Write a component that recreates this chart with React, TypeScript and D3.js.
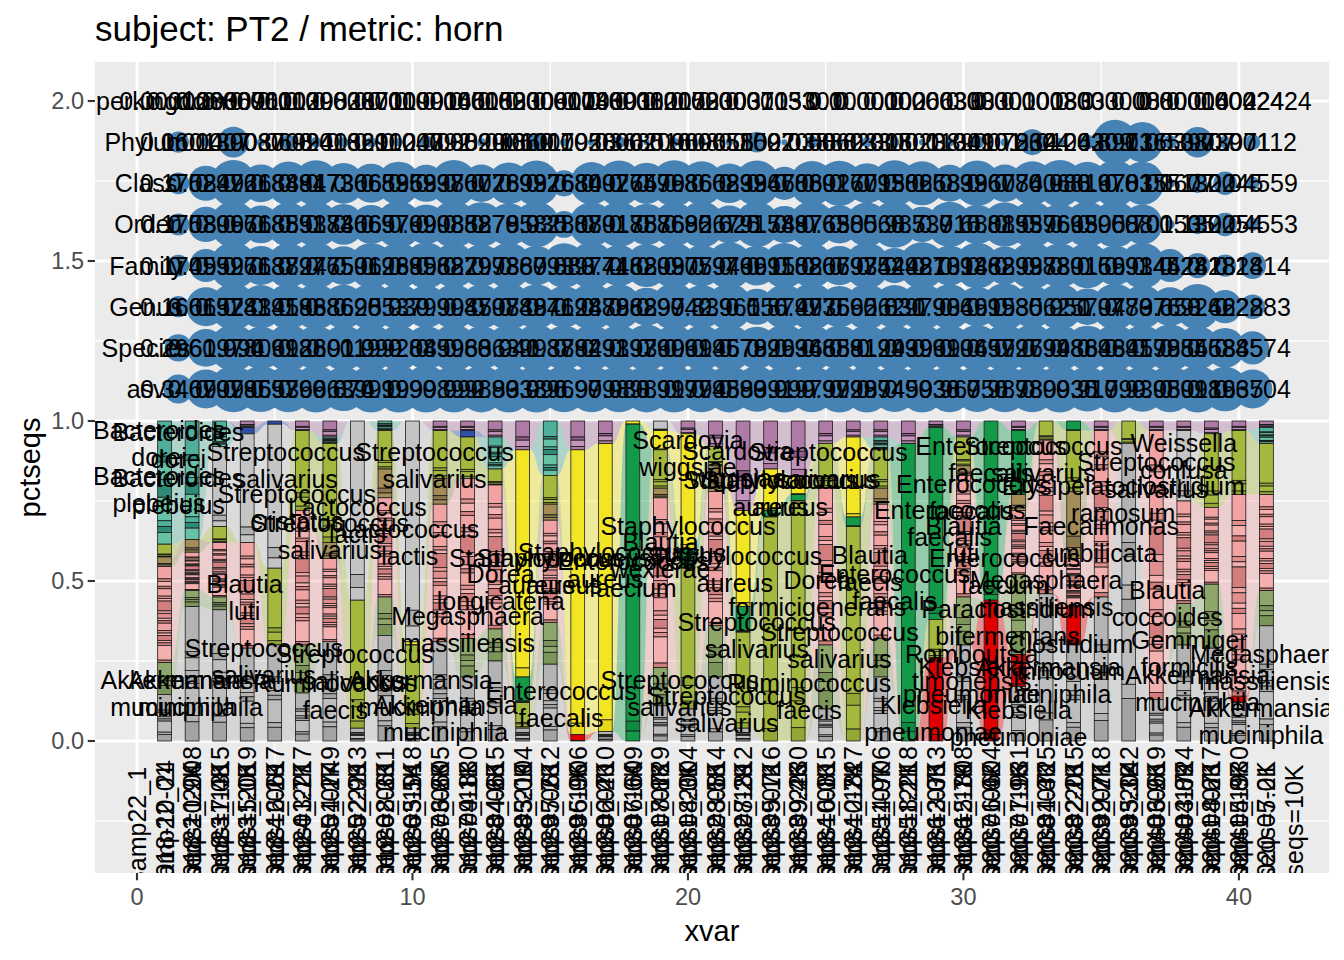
import * as d3 from "d3";

const W = 1344;
const H = 960;
const FONT = "'Liberation Sans', Arial, Helvetica, sans-serif";
const margin = { top: 62, right: 15, bottom: 87, left: 95 };

// ---- samples (x = 1..41) ----
const samples = [
  "Samp22_1", "Samp22_24", "Samp22_2008", "Samp23_1315", "Samp23_2019", "Samp24_0617", "Samp24_2217",
  "Samp25_0749", "Samp25_2213", "Samp26_0611", "Samp26_1918", "Samp27_0605", "Samp27_1830", "Samp28_0615",
  "Samp28_2104", "Samp29_0612", "Samp29_1906", "Samp30_0710", "Samp30_1609", "Samp31_0729", "Samp31_2004",
  "Samp32_0814", "Samp32_1812", "Samp33_0716", "Samp33_2230", "Samp34_0815", "Samp34_1827", "Samp35_0706",
  "Samp35_2218", "Samp36_0713", "Samp36_1808", "Samp37_0604", "Samp37_1931", "Samp38_0725", "Samp38_2015",
  "Samp39_0718", "Samp39_2042", "Samp40_0619", "Samp40_1724", "Samp41_0717", "Samp41_1930",
];
const sampleDates = [
  "2018-10-01", "2018-10-24", "2018-11-08", "2018-11-15", "2018-12-19", "2019-01-17", "2019-01-27",
  "2019-02-09", "2019-02-23", "2019-03-14", "2019-03-28", "2019-04-11", "2019-04-25", "2019-05-09",
  "2019-05-23", "2019-06-06", "2019-06-20", "2019-07-04", "2019-07-18", "2019-08-01", "2019-08-15",
  "2019-08-29", "2019-09-12", "2019-09-26", "2019-10-10", "2019-10-24", "2019-11-07", "2019-11-21",
  "2019-12-05", "2019-12-19", "2020-01-02", "2020-01-16", "2020-01-30", "2020-02-13", "2020-02-27",
  "2020-03-12", "2020-03-26", "2020-04-09", "2020-04-23", "2020-05-07", "2020-05-21",
];
const nseqs = [
  "nseqs=1.9K", "nseqs=7.4K", "nseqs=5.0K", "nseqs=6.2K", "nseqs=3.7K", "nseqs=4.1K", "nseqs=2.9K",
  "nseqs=8.3K", "nseqs=5.5K", "nseqs=6.8K", "nseqs=9.1K", "nseqs=4.6K", "nseqs=3.0K", "nseqs=7.7K",
  "nseqs=5.9K", "nseqs=2.4K", "nseqs=6.6K", "nseqs=8.8K", "nseqs=4.3K", "nseqs=3.5K", "nseqs=7.2K",
  "nseqs=5.1K", "nseqs=9.4K", "nseqs=6.0K", "nseqs=2.7K", "nseqs=4.9K", "nseqs=8.1K", "nseqs=3.3K",
  "nseqs=5.7K", "nseqs=6.4K", "nseqs=7.9K", "nseqs=4.4K", "nseqs=2.2K", "nseqs=9.7K", "nseqs=5.3K",
  "nseqs=6.9K", "nseqs=3.8K", "nseqs=8.6K", "nseqs=4.8K", "nseqs=7.0K", "nseqs=10K",
];

// ---- composition per taxon group (stack order: first = top) ----
const taxa = [
  "Bifidobacterium", "Veillonella", "Bacteroides", "Lactococcus", "Staphylococcus", "Enterococcus",
  "Streptococcus", "Erysipelotrichaceae", "Lachnospiraceae", "Megasphaera", "Klebsiella", "Akkermansia",
];
const bifidobacterium = [0,0,0,.02,0,.03,.05,0,0,0, .03,.03,.05,.09,0,.09,.07,0,0,.04, .08,.28,.15,.17,.07,.05,.05,.07,.02,.05, 0,.03,0,0,.03,0,.03,.03,.04,.03,.02];
const veillonella = [0,0,0,.02,.01,0,0,0,0,0, 0,.02,0,0,0,0,0,0,0,0, 0,0,0,0,0,0,0,0,0,0, 0,0,0,0,0,0,0,0,0,0,0];
const bacteroides = [.385,.37,.08,0,0,0,.02,0,.03,0, 0,0,.10,0,.17,0,0,0,0,0, 0,0,0,0,0,0,.04,0,0,0, 0,0,0,0,0,0,0,0,0,0,.05];
const lactococcus = [0,0,.25,.34,.45,0,0,.56,0,.69, 0,0,0,0,0,0,0,0,.03,0, 0,0,0,0,0,0,0,0,0,0, 0,0,0,0,0,0,0,.22,0,0,0];
const staphylococcus = [0,0,0,0,0,0,0,0,0,.01, 0,0,0,.71,0,.89,.90,.01,.06,.36, 0,.30,.13,.06,0,.25,0,0,0,0, 0,0,0,0,0,0,0,0,0,0,0];
const enterococcus = [0,0,0,0,0,0,0,0,0,0, 0,0,0,.08,0,0,0,.99,0,.06, 0,.08,.02,.02,0,.03,0,.93,.60,0, .56,.20,0,.03,0,0,0,0,0,0,0];
const streptococcus = [.04,0,.05,0,.24,.25,.31,.40,.12,.26, .15,.13,.05,.08,.09,0,0,0,.12,.44, .06,.30,.70,.75,.14,.67,.12,0,.12,.09, 0,0,.06,.19,0,.07,0,0,.23,.20,.16];
const erysipelotrichaceae = [.03,.04,0,0,0,0,.05,0,.09,0, .08,0,0,0,.05,0,0,0,.03,0, .08,0,0,0,0,0,.05,0,0,.03, 0,.05,0,.21,0,0,0,0,0,0,0];
const lachnospiraceae = [.30,.12,.17,.33,0,.42,.26,0,.31,0, .43,.50,.45,0,.32,0,0,0,.53,0, .42,0,0,0,.49,0,.42,0,0,.38, 0,.20,.48,.15,.52,0,.84,.32,.24,.63,.30];
const megasphaera = [.10,.05,.04,0,0,.15,0,0,.12,0, 0,.12,.10,0,.13,0,0,0,.12,0, .16,0,0,0,.20,0,.12,0,0,.15, 0,.25,0,0,0,0,0,.13,.20,0,.11];
const klebsiella = [0,0,0,0,0,0,0,0,0,0, 0,0,0,0,0,.02,0,0,0,0, 0,0,0,0,0,0,0,0,.26,0, .44,.10,0,.12,0,0,0,0,0,.02,0];
const akkermansia = [.145,.42,.41,.29,.30,.15,.31,.04,.33,.04, .31,.20,.25,.04,.24,0,.03,0,.11,.10, .20,.04,0,0,.10,0,.20,0,0,.30, 0,.17,.46,.30,.45,.93,.13,.30,.29,.12,.36];
const composition: Record<string, number[]> = {
  Bifidobacterium: bifidobacterium, Veillonella: veillonella, Bacteroides: bacteroides,
  Lactococcus: lactococcus, Staphylococcus: staphylococcus, Enterococcus: enterococcus,
  Streptococcus: streptococcus, Erysipelotrichaceae: erysipelotrichaceae, Lachnospiraceae: lachnospiraceae,
  Megasphaera: megasphaera, Klebsiella: klebsiella, Akkermansia: akkermansia,
};
// relative ASV sizes inside each group (gives the thin striping of the bars)
const asvWeights: Record<string, number[]> = {
  Bifidobacterium: [5, 1, 2, 1],
  Veillonella: [1],
  Bacteroides: [6, 1, 3, 1, 2, 4, 1, 1, 2],
  Lactococcus: [12, 1, 1],
  Staphylococcus: [24, 1],
  Enterococcus: [30, 1, 1],
  Streptococcus: [14, 1, 2, 1],
  Erysipelotrichaceae: [4, 1, 1],
  Lachnospiraceae: [5, 1, 2, 1, 3, 1, 1, 4, 1, 2, 1, 1, 3, 1, 1, 2, 1, 1, 6, 1],
  Megasphaera: [3, 1, 1, 2],
  Klebsiella: [12, 1],
  Akkermansia: [7, 1, 2, 1, 1, 5, 1, 3],
};
const taxonShades: Record<string, string[]> = {
  Bifidobacterium: ["#B07AA6", "#8E5C86", "#C594BC"],
  Veillonella: ["#3050A8"],
  Bacteroides: ["#4FAF9A", "#2E8B78", "#66C2A5"],
  Lactococcus: ["#C4C4C4", "#B0B0B0"],
  Staphylococcus: ["#F2E523", "#E8D81A"],
  Enterococcus: ["#129A48", "#0E8A3E"],
  Streptococcus: ["#A3B83D", "#93A834"],
  Erysipelotrichaceae: ["#A38C58", "#8C774A"],
  Lachnospiraceae: ["#F1A2A2", "#E08E8E", "#F4AFAF", "#D27E7E"],
  Megasphaera: ["#8FA66B", "#7A9459"],
  Klebsiella: ["#E10000", "#C80000"],
  Akkermansia: ["#B3B3B3", "#A3A3A3", "#BDBDBD"],
};

// ---- turnover between consecutive samples, per rank ----
const ranks = ["Superkingdom", "Phylum", "Class", "Order", "Family", "Genus", "Species", "asv"];
const rankLabelX = 0.33;
const superkingdomHorn = [0.0001203, 0.0003667, 0.0000911, 0.0006002, 0.0001398, 0.0009033, 0.0002871, 0.0007019, 0.00009, 0.0000166, 0.0004515, 0.0000833, 0.0002009, 0.0000601, 0.0001746, 0.0003393, 0.0000112, 0.0008015, 0.0000733, 0.0002003, 0.0000371, 0.0001053, 0.0003301, 0, 0, 0.0000102, 0.0000066, 0.0000033, 0.0003033, 0, 0.0000101, 0.0000083, 0.0003033, 0, 0.0000088, 0, 0.0000016, 0.0000402, 0.0000424, 0.0002424];
const phylumHorn = [0.1601, 0.01407, 0.3903, 0.008708, 0.06994, 0.02403, 0.01869, 0.02102, 0.01003, 0.04792, 0.003829, 0.009006, 0.01869, 0.1011, 0.007928, 0.005006, 0.03685, 0.002096, 0.01608, 0.009655, 0.005809, 0.1527, 0.002058, 0.03888, 0.006233, 0.02305, 0.01801, 0.002389, 0.01301, 0.04901, 0.007834, 0.2624, 0.01242, 0.06309, 0.8913, 0.7165, 0.05397, 0.3807, 0.03901, 0.07112];
const classHorn = [0.1708, 0.5249, 0.9726, 0.6188, 0.8481, 0.9473, 0.7306, 0.6659, 0.8363, 0.5937, 0.9807, 0.6028, 0.7699, 0.9376, 0.2684, 0.8007, 0.9265, 0.7479, 0.9686, 0.8602, 0.6839, 0.9367, 0.4606, 0.8802, 0.9167, 0.7013, 0.9502, 0.8668, 0.5839, 0.9367, 0.6074, 0.8606, 0.988, 0.8167, 0.9701, 0.8355, 0.01677, 0.1302, 0.2045, 0.04559];
const orderHorn = [0.1708, 0.5309, 0.9676, 0.6188, 0.8553, 0.9184, 0.7306, 0.6657, 0.9799, 0.6908, 0.9852, 0.8878, 0.7958, 0.935, 0.2807, 0.8801, 0.9188, 0.7576, 0.8682, 0.9567, 0.625, 0.9174, 0.5887, 0.9765, 0.6305, 0.8568, 0.987, 0.537, 0.915, 0.6801, 0.8853, 0.9596, 0.7665, 0.9305, 0.9688, 0.701, 0.01535, 0.1302, 0.2054, 0.04553];
const familyHorn = [0.1709, 0.4552, 0.9971, 0.6637, 0.8824, 0.9775, 0.6506, 0.9126, 0.9389, 0.9562, 0.8829, 0.7978, 0.9389, 0.6793, 0.883, 0.9741, 0.7468, 0.8209, 0.9307, 0.7594, 0.9796, 0.6915, 0.9102, 0.8807, 0.6697, 0.9344, 0.5242, 0.9813, 0.7014, 0.9388, 0.6293, 0.9973, 0.8801, 0.9156, 0.6991, 0.9344, 0.4528, 0.2428, 0.1814, 0.2814];
const genusHorn = [0.1601, 0.6652, 0.9741, 0.8345, 0.9186, 0.9386, 0.8625, 0.9853, 0.939, 0.7999, 0.9045, 0.8707, 0.9848, 0.8941, 0.7624, 0.9878, 0.8988, 0.6297, 0.9942, 0.839, 0.961, 0.556, 0.8747, 0.9936, 0.7565, 0.9262, 0.831, 0.9793, 0.9046, 0.6915, 0.9935, 0.8062, 0.951, 0.5707, 0.9479, 0.8376, 0.653, 0.9262, 0.4628, 0.2283];
const speciesHorn = [0.2961, 0.6197, 0.994, 0.8061, 0.9926, 0.8801, 0.9119, 0.999, 0.9208, 0.8459, 0.9968, 0.8363, 0.941, 0.9937, 0.8884, 0.9291, 0.9393, 0.9769, 0.9069, 0.9146, 0.9578, 0.7926, 0.9936, 0.9465, 0.8881, 0.9129, 0.9439, 0.9969, 0.9106, 0.9457, 0.9926, 0.9799, 0.9486, 0.8843, 0.9645, 0.9178, 0.9955, 0.8453, 0.6885, 0.4574];
const asvHorn = [0.3409, 0.6709, 0.9786, 0.9553, 0.9766, 0.9963, 0.874, 0.9919, 0.9999, 0.9989, 0.992, 0.9883, 0.9938, 0.996, 0.9699, 0.9798, 0.983, 0.9891, 0.9979, 0.9745, 0.9889, 0.9391, 0.999, 0.9797, 0.9928, 0.9974, 0.9459, 0.9938, 0.967, 0.956, 0.9878, 0.9809, 0.9935, 0.917, 0.999, 0.9305, 0.9801, 0.9916, 0.8935, 0.6704];
const hornByRank = [superkingdomHorn, phylumHorn, classHorn, orderHorn, familyHorn, genusHorn, speciesHorn, asvHorn];

// ---- top ASV labels: name, sample index, pctseqs position ----
const labelText = [
  "Bacteroides\ndorei", "Bacteroides\ndorei", "Bacteroides\nplebeius", "Bacteroides\nplebeius",
  "Streptococcus\nsalivarius", "Streptococcus\nsalivarius", "Streptococcus\ncristatus", "Lactococcus\nlactis",
  "Lactococcus\nlactis", "Streptococcus\nsalivarius", "Blautia\nluti", "Streptococcus\nsalivarius",
  "Streptococcus\nsalivarius", "Akkermansia\nmuciniphila", "Akkermansia\nmuciniphila", "Ruminococcus\nfaecis",
  "Akkermansia\nmuciniphila", "Akkermansia\nmuciniphila", "Megasphaera\nmassiliensis", "Dorea\nlongicatena",
  "Staphylococcus\naureus", "Staphylococcus\naureus", "Enterococcus\nfaecium", "Staphylococcus\naureus",
  "Staphylococcus\naureus", "Blautia\nwexlerae", "Scardovia\nwiggsiae", "Scardovia\nwiggsiae",
  "Streptococcus\nsalivarius", "Staphylococcus\naureus", "Staphylococcus\naureus", "Staphylococcus\naureus",
  "Dorea\nformicigenerans", "Blautia\nfaecis", "Enterococcus\nfaecalis", "Streptococcus\nsalivarius",
  "Streptococcus\nsalivarius", "Streptococcus\nsalivarius", "Streptococcus\nsalivarius", "Enterococcus\nfaecalis",
  "Ruminococcus\nfaecis", "Klebsiella\npneumoniae", "Enterococcus\nfaecalis", "Streptococcus\nsalivarius",
  "Weissella\nconfusa", "Streptococcus\nsalivarius", "Enterococcus\nfaecalis", "Erysipelatoclostridium\nramosum",
  "Enterococcus\nfaecalis", "Faecalimonas\numbilicata", "Blautia\nluti", "Enterococcus\nfaecium",
  "Megasphaera\nmassiliensis", "Paraclostridium\nbifermentans", "Blautia\ncoccoides", "Romboutsia\ntimonensis",
  "Gemmiger\nformicilis", "Clostridium\ninnocuum", "Akkermansia\nmuciniphila", "Klebsiella\npneumoniae",
  "Klebsiella\npneumoniae", "Akkermansia\nmuciniphila", "Megasphaera\nmassiliensis", "Akkermansia\nmuciniphila",
];
const labelSample = [
  0.8, 1.5, 0.8, 1.5, 5.4, 10.8, 5.8, 8, 9.9, 7, 3.9, 4.6, 7.9, 1.3, 2.3, 7.2,
  10.3, 11.2, 12, 13.2, 14.5, 15.5, 18, 17, 20, 19, 20, 21.8, 25.1, 23, 23.7, 21.7,
  24.7, 26.6, 27.5, 22.5, 25.5, 19.7, 21.4, 15.4, 24.4, 28.9, 31, 32.9, 38, 37, 30.3, 35.8,
  29.5, 35, 30, 31.5, 33, 31.6, 37.4, 30.3, 38.2, 33.9, 33.1, 30.3, 32, 38.5, 41, 40.8,
];
const labelPct = [
  0.93, 0.925, 0.785, 0.78, 0.86, 0.86, 0.73, 0.69, 0.62, 0.64, 0.45, 0.25, 0.23, 0.15, 0.15, 0.14,
  0.15, 0.07, 0.35, 0.48, 0.53, 0.53, 0.52, 0.55, 0.63, 0.58, 0.9, 0.865, 0.86, 0.775, 0.775, 0.535,
  0.46, 0.54, 0.48, 0.33, 0.3, 0.15, 0.1, 0.115, 0.14, 0.07, 0.88, 0.88, 0.89, 0.83, 0.76, 0.755,
  0.68, 0.63, 0.63, 0.53, 0.46, 0.37, 0.43, 0.23, 0.275, 0.26, 0.19, 0.19, 0.055, 0.165, 0.23, 0.06,
];

const yTicks = [0, 0.5, 1, 1.5, 2];
const yMinor = [-0.25, 0.25, 0.75, 1.25, 1.75];
const xTicks = [0, 10, 20, 30, 40];
const xMinor = [5, 15, 25, 35];

export default function App() {
  const left = margin.left;
  const right = W - margin.right;
  const top = margin.top;
  const bottom = H - margin.bottom;

  const x = d3.scaleLinear().domain([-1.5245, 43.27]).range([left, right]);
  const y = d3.scaleLinear().domain([-0.4125, 2.1219]).range([bottom, top]);
  const rankY = d3.scalePoint<string>().domain(ranks).range([2.0, 1.1]);
  const allHorn = hornByRank.flat();
  const size = d3.scaleSqrt().domain([0, d3.max(allHorn) as number]).range([2, 23.5]);
  const fmt = d3.format(".4~r");
  const lineStep = x(1) - x(0); // sample-label line spacing (one x unit)

  const rows = samples.map((s, i) => {
    const o: Record<string, number | string> = { sample: s };
    taxa.forEach((t) => (o[t] = composition[t][i]));
    return o;
  });
  const series = d3.stack<any>().keys([...taxa].reverse())(rows as any);
  const byTaxon: Record<string, [number, number][]> = {};
  series.forEach((s) => {
    byTaxon[s.key] = s.map((d) => [d[0], d[1]] as [number, number]);
  });

  const barHalf = 0.25;

  // flows between neighbouring bars
  const flows: JSX.Element[] = [];
  for (let i = 0; i < samples.length - 1; i++) {
    taxa.forEach((t) => {
      const a = byTaxon[t][i];
      const b = byTaxon[t][i + 1];
      if (a[1] - a[0] <= 0 && b[1] - b[0] <= 0) return;
      const xa = x(i + 1 + barHalf);
      const xb = x(i + 2 - barHalf);
      const xm = (xa + xb) / 2;
      const d = `M${xa},${y(a[1])} C${xm},${y(a[1])} ${xm},${y(b[1])} ${xb},${y(b[1])} L${xb},${y(b[0])} C${xm},${y(b[0])} ${xm},${y(a[0])} ${xa},${y(a[0])} Z`;
      flows.push(<path key={`f${i}-${t}`} d={d} fill={taxonShades[t][0]} fillOpacity={0.4} stroke="none" />);
    });
  }

  // striped bar segments
  const segs: JSX.Element[] = [];
  samples.forEach((_, i) => {
    taxa.forEach((t) => {
      const [y0, y1] = byTaxon[t][i];
      const v = y1 - y0;
      if (v <= 0) return;
      const w = asvWeights[t];
      const tot = d3.sum(w);
      let cur = y1;
      w.forEach((wj, j) => {
        const h = (v * wj) / tot;
        const shades = taxonShades[t];
        segs.push(
          <rect
            key={`s${i}-${t}-${j}`}
            x={x(i + 1 - barHalf)}
            width={x(i + 1 + barHalf) - x(i + 1 - barHalf)}
            y={y(cur)}
            height={y(cur - h) - y(cur)}
            fill={shades[j % shades.length]}
            stroke="#1a1a1a"
            strokeWidth={0.8}
          />
        );
        cur -= h;
      });
    });
  });

  const pairX = (k: number) => k + 1.5;

  return (
    <svg width={W} height={H} style={{ position: "absolute", left: 0, top: 0, background: "#fff" }} fontFamily={FONT}>
      <defs>
        <clipPath id="panel">
          <rect x={left} y={top} width={right - left} height={bottom - top} />
        </clipPath>
      </defs>

      <text x={left} y={41} fontSize={35} fill="#000">subject: PT2 / metric: horn</text>

      <rect x={left} y={top} width={right - left} height={bottom - top} fill="#EBEBEB" />
      {yMinor.map((v) => (
        <line key={`ym${v}`} x1={left} x2={right} y1={y(v)} y2={y(v)} stroke="#fff" strokeWidth={1.4} />
      ))}
      {xMinor.map((v) => (
        <line key={`xm${v}`} y1={top} y2={bottom} x1={x(v)} x2={x(v)} stroke="#fff" strokeWidth={1.4} />
      ))}
      {yTicks.map((v) => (
        <line key={`yM${v}`} x1={left} x2={right} y1={y(v)} y2={y(v)} stroke="#fff" strokeWidth={2.8} />
      ))}
      {xTicks.map((v) => (
        <line key={`xM${v}`} y1={top} y2={bottom} x1={x(v)} x2={x(v)} stroke="#fff" strokeWidth={2.8} />
      ))}

      <g clipPath="url(#panel)">
        {flows}
        {segs}

        {hornByRank.map((vals, r) =>
          vals.map((v, k) => (
            <circle key={`c${r}-${k}`} cx={x(pairX(k))} cy={y(rankY(ranks[r]) as number)} r={size(v)} fill="#4682B4" />
          ))
        )}
        {hornByRank.map((vals, r) =>
          vals.map((v, k) => (
            <text key={`n${r}-${k}`} x={x(pairX(k))} y={y(rankY(ranks[r]) as number) + 9} fontSize={25} textAnchor="middle" fill="#000">
              {fmt(v)}
            </text>
          ))
        )}
        {ranks.map((r) => (
          <text key={`r${r}`} x={x(rankLabelX)} y={y(rankY(r) as number) + 9} fontSize={25} textAnchor="middle" fill="#000">
            {r}
          </text>
        ))}

        {labelText.map((t, i) => {
          const [l1, l2] = t.split("\n");
          const cx = x(labelSample[i]);
          const cy = y(labelPct[i]);
          return (
            <text key={`l${i}`} x={cx} fontSize={25} textAnchor="middle" fill="#000">
              <tspan x={cx} y={cy - 13.5 + 9}>{l1}</tspan>
              <tspan x={cx} y={cy + 13.5 + 9}>{l2}</tspan>
            </text>
          );
        })}

        {samples.map((s, i) => (
          <text
            key={`sl${i}`}
            transform={`translate(${x(i + 1)},${y(-0.27)}) rotate(-90)`}
            fontSize={25}
            textAnchor="middle"
            fill="#000"
          >
            <tspan x={0} y={-lineStep + 9}>{s}</tspan>
            <tspan x={0} y={9}>{sampleDates[i]}</tspan>
            <tspan x={0} y={lineStep + 9}>{nseqs[i]}</tspan>
          </text>
        ))}
      </g>

      {/* axes */}
      {yTicks.map((v) => (
        <g key={`yt${v}`}>
          <line x1={left - 7.3} x2={left} y1={y(v)} y2={y(v)} stroke="#333" strokeWidth={2.1} />
          <text x={left - 11} y={y(v) + 8} fontSize={23.5} textAnchor="end" fill="#4D4D4D">
            {d3.format(".1f")(v)}
          </text>
        </g>
      ))}
      {xTicks.map((v) => (
        <g key={`xt${v}`}>
          <line x1={x(v)} x2={x(v)} y1={bottom} y2={bottom + 7.3} stroke="#333" strokeWidth={2.1} />
          <text x={x(v)} y={bottom + 32} fontSize={23.5} textAnchor="middle" fill="#4D4D4D">
            {v}
          </text>
        </g>
      ))}
      <text x={(left + right) / 2} y={H - 19} fontSize={29} textAnchor="middle" fill="#000">xvar</text>
      <text transform={`translate(40,${(top + bottom) / 2}) rotate(-90)`} fontSize={29} textAnchor="middle" fill="#000">
        pctseqs
      </text>
    </svg>
  );
}
